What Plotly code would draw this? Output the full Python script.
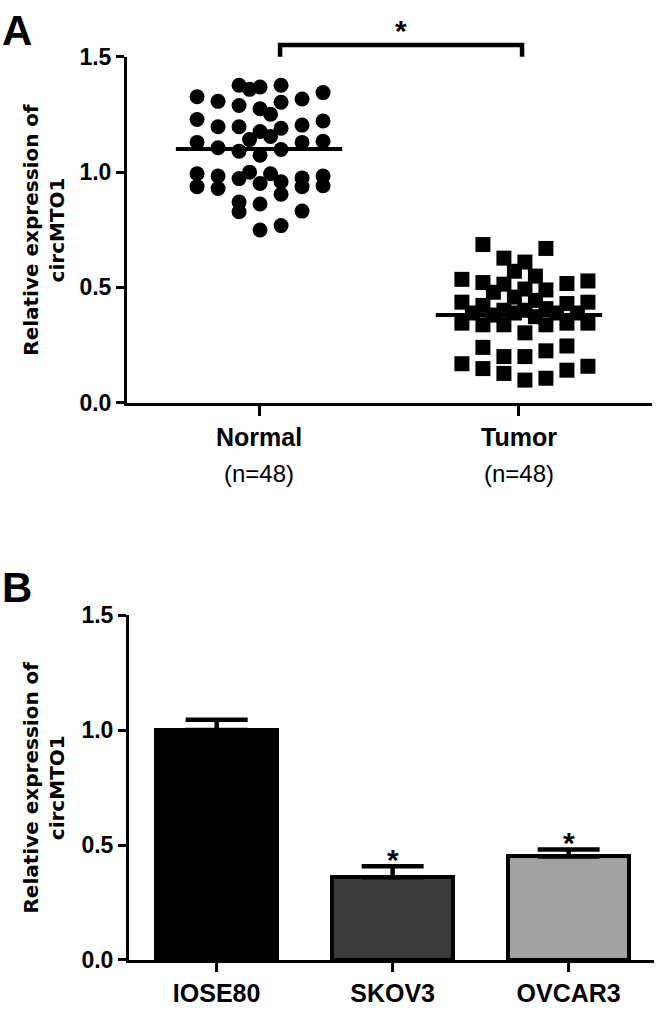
import plotly.graph_objects as go

# ---------------- Data ----------------
# Panel A: dot plot, column = horizontal jitter slot (half-steps)
groups = ["Normal", "Tumor"]
group_n = ["(n=48)", "(n=48)"]

normal_values = [1.377, 1.359, 1.369, 1.377, 1.345,
                 1.327, 1.307, 1.289, 1.275, 1.251, 1.303, 1.317,
                 1.228, 1.197, 1.197, 1.176, 1.141, 1.155, 1.190, 1.204, 1.222,
                 1.129, 1.106, 1.091, 1.073, 1.098, 1.129, 1.134,
                 0.993, 0.937, 0.983, 0.929, 0.972, 1.000, 0.951, 0.993, 0.958, 0.904, 0.975, 0.937, 0.983, 0.941,
                 0.870, 0.828, 0.862, 0.831,
                 0.749, 0.768]
normal_cols = [-2, -1, 0, 2, 6,
               -6, -4, -2, 0, 1, 2, 4,
               -6, -4, -2, 0, -1, 1, 2, 4, 6,
               -6, -4, -2, 0, 2, 4, 6,
               -6, -6, -4, -4, -2, -1, 0, 1, 2, 2, 4, 4, 6, 6,
               -2, -2, 0, 4,
               0, 2]

tumor_values = [0.686, 0.669, 0.627, 0.610, 0.570, 0.549, 0.535, 0.521, 0.514, 0.517, 0.528,
                0.479, 0.493, 0.489, 0.436, 0.422, 0.458, 0.444, 0.430, 0.436, 0.401, 0.401, 0.408,
                0.345, 0.338, 0.338, 0.303, 0.338, 0.345, 0.345,
                0.389, 0.380, 0.389, 0.373, 0.389, 0.389,
                0.240, 0.225, 0.246, 0.169, 0.200, 0.200, 0.148, 0.127, 0.098, 0.106, 0.141, 0.158]
tumor_cols = [-4, 2, -2, 0, -1, 1, -6, -4, -2, 4, 6,
              -3, 0, 2, -6, -4, -1, 1, 4, 6, -2, 0, 2,
              -6, -4, -2, 0, 2, 4, 6,
              -5, -3, -1, 1, 3, 5,
              -4, 2, 4, -6, -2, 0, -4, -2, 0, 2, 4, 6]

group_means = [1.10, 0.38]

# Panel B: bar chart
cell_lines = ["IOSE80", "SKOV3", "OVCAR3"]
bar_values = [1.00, 0.36, 0.45]
bar_errors = [0.045, 0.048, 0.031]
bar_colors = ["#000000", "#3b3b3b", "#a2a2a2"]
bar_sig = ["", "*", "*"]

y_ticks = [0.0, 0.5, 1.0, 1.5]
y_title = "Relative expression of<br>circMTO1"

# ---------------- Style ----------------
W, H = 660, 1010
FONT = "Liberation Sans, Arial, sans-serif"
TITLE_FONT = "DejaVu Sans, Verdana, sans-serif"
step = 0.0404          # half-slot width in panel A x units
shift = [0.004, 0.023]  # cluster offset per group

fig = go.Figure()

# Panel A points
xn = [1 + shift[0] + c * step for c in normal_cols]
xt = [2 + shift[1] + c * step for c in tumor_cols]
fig.add_trace(go.Scatter(x=xn, y=normal_values, mode="markers",
                         marker=dict(symbol="circle", size=15, color="black", line=dict(width=0)),
                         xaxis="x", yaxis="y", showlegend=False, cliponaxis=False))
fig.add_trace(go.Scatter(x=xt, y=tumor_values, mode="markers",
                         marker=dict(symbol="square", size=15, color="black", line=dict(width=0)),
                         xaxis="x", yaxis="y", showlegend=False, cliponaxis=False))
# mean lines
for i, m in enumerate(group_means):
    c = i + 1
    fig.add_trace(go.Scatter(x=[c - 0.32, c + 0.32], y=[m, m], mode="lines",
                             line=dict(color="black", width=4),
                             xaxis="x", yaxis="y", showlegend=False, hoverinfo="skip"))

# Panel B bars
fig.add_trace(go.Bar(x=list(range(len(cell_lines))), y=bar_values, width=0.69,
                     marker=dict(color=bar_colors, line=dict(color="black", width=4)),
                     error_y=dict(type="data", symmetric=False, array=bar_errors,
                                  arrayminus=[0] * len(bar_errors),
                                  color="black", thickness=4.5, width=31),
                     xaxis="x2", yaxis="y2", showlegend=False))

axis_common = dict(showgrid=False, zeroline=False, showline=True, linecolor="black",
                   linewidth=3, ticks="outside", tickwidth=3, tickcolor="black")

fig.update_layout(
    width=W, height=H, autosize=False,
    margin=dict(l=0, r=0, t=0, b=0),
    paper_bgcolor="white", plot_bgcolor="white",
    bargap=0,
    xaxis=dict(domain=[127 / W, 652 / W], range=[0.492, 2.512], anchor="y",
               tickvals=[1, 2], ticktext=["Normal", "Tumor"], ticklen=10,
               tickfont=dict(family=FONT, size=25, color="black", weight="bold"),
               **axis_common),
    yaxis=dict(domain=[1 - 400 / H, 1 - 45 / H], range=[0, 1.5], anchor="x",
               tickvals=y_ticks, ticktext=[f"{v:.1f}" for v in y_ticks], ticklen=8,
               tickfont=dict(family=FONT, size=23, color="black", weight="bold"),
               **axis_common),
    xaxis2=dict(domain=[129 / W, 654 / W], range=[-0.498, 2.485], anchor="y2",
                tickvals=list(range(len(cell_lines))), ticktext=cell_lines, ticklen=9,
                tickfont=dict(family=FONT, size=25, color="black", weight="bold"),
                **axis_common),
    yaxis2=dict(domain=[1 - 972 / H, 1 - 618 / H], range=[0, 1.5], anchor="x2",
                tickvals=y_ticks, ticktext=[f"{v:.1f}" for v in y_ticks], ticklen=8,
                tickfont=dict(family=FONT, size=23, color="black", weight="bold"),
                **axis_common),
)

# Significance bracket panel A
fig.add_shape(type="path", xref="x", yref="y domain",
              path="M 1.081,1.0 L 1.081,1.034 L 2.012,1.034 L 2.012,1.0",
              line=dict(color="black", width=4.5))
fig.add_annotation(x=1.546, y=1.075, xref="x", yref="y domain", text="*", showarrow=False,
                   font=dict(family=FONT, size=30, color="black", weight="bold"),
                   yanchor="middle")

# n labels
for i, t in enumerate(group_n):
    fig.add_annotation(x=i + 1, y=1 - 473 / H, xref="x", yref="paper", text=t,
                       showarrow=False, yanchor="middle",
                       font=dict(family=FONT, size=24, color="black"))

# stars panel B
for i, s in enumerate(bar_sig):
    if s:
        fig.add_annotation(x=i, y=bar_values[i] + bar_errors[i] + 0.03, xref="x2", yref="y2",
                           text=s, showarrow=False, yanchor="middle",
                           font=dict(family=FONT, size=30, color="black", weight="bold"))

# Y titles
for yr in ["y domain", "y2 domain"]:
    fig.add_annotation(x=44 / W, y=0.5, xref="paper", yref=yr, text=y_title,
                       textangle=-90, showarrow=False, xanchor="center", yanchor="middle",
                       font=dict(family=TITLE_FONT, size=20, color="black", weight="bold"))

# Panel letters
fig.add_annotation(x=0.0, y=1 - 18 / H, xref="paper", yref="paper", text="A",
                   showarrow=False, xanchor="left", yanchor="middle",
                   font=dict(family=FONT, size=42, color="black", weight="bold"))
fig.add_annotation(x=0.0, y=1 - 590 / H, xref="paper", yref="paper", text="B",
                   showarrow=False, xanchor="left", yanchor="middle",
                   font=dict(family=FONT, size=42, color="black", weight="bold"))

fig.write_html("out.html", config={"displayModeBar": False},
               post_script="document.body.style.margin='0px';")
